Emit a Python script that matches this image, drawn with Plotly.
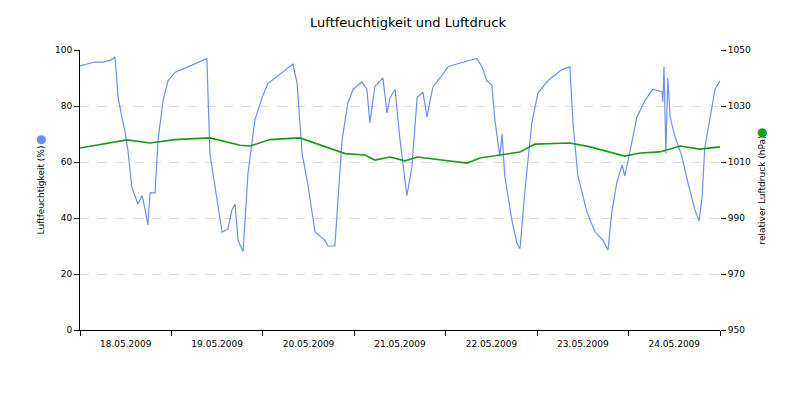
import pandas as pd
import plotly.graph_objects as go

start = pd.Timestamp("2009-05-18 00:00")

# Luftfeuchtigkeit: Stunden ab 18.05.2009 00:00 und Werte (%)
hum_hours = [0, 2.1, 3.9, 6.0, 8.1, 9.2, 10.0, 11.0, 11.8, 12.6, 13.6, 15.2, 16.3, 17.1, 17.8, 18.4, 19.7, 20.5,
             21.8, 23.1, 24.9, 29.4, 33.3, 34.1, 35.4, 37.3, 38.8, 39.9, 40.7, 41.5, 42.8, 44.1, 45.9, 47.8, 49.3,
             53.0, 55.9, 57.0, 58.3, 59.8, 61.7, 64.3, 65.1, 66.9, 68.8, 70.3, 71.7, 74.0, 75.3, 76.1, 77.4, 79.5,
             80.6, 81.4, 82.7, 84.0, 84.5, 85.8, 87.1, 88.5, 90.0, 91.1, 91.9, 92.7, 94.5, 96.6, 98.9, 101.6, 104.2,
             105.5, 106.8, 108.1, 108.9, 110.2, 110.8, 111.5, 113.4, 114.7, 115.5, 116.8, 118.6, 120.2, 122.8, 126.5,
             128.6, 129.4, 130.7, 133.1, 135.2, 137.3, 138.6, 139.6, 140.9, 142.3, 143.0, 144.4, 146.2, 148.3, 150.4,
             152.8, 153.0, 153.3, 153.8, 154.3, 154.9, 156.2, 158.0, 159.6, 161.4, 162.5, 163.3, 164.0, 165.4, 166.7,
             168.0]
hum_vals = [94.3, 95.0, 95.7, 95.7, 96.4, 97.5, 83, 76, 71, 64, 51, 45, 48, 43, 37.5, 49, 49, 68,
            82, 89, 92, 94.6, 97, 63, 51, 35, 36, 43, 45, 32, 28, 56, 75, 83, 88,
            92, 95, 88, 63, 52, 35, 32, 30, 30, 68, 81, 86, 88.6, 86, 74, 87, 90,
            77.5, 83, 86, 68, 62, 48, 58, 83, 85, 76, 82, 87, 90, 94, 95, 96, 97,
            94, 89, 87.5, 75, 62, 70, 55, 39, 31, 29, 50, 74, 84.6, 89, 93,
            94, 74, 55, 42, 35, 32, 28.6, 42, 52.5, 59, 55, 64, 76, 82, 86,
            85, 81.5, 94, 63, 90, 76, 69, 62, 52.5, 43, 39, 47.5, 65, 76, 86,
            89]

# Luftdruck: Stunden und Werte (hPa)
pres_hours = [0, 12.3, 18.4, 24.9, 34.1, 42.0, 44.6, 49.9, 57.7, 63.0, 69.6, 74.8, 77.4, 81.4, 85.3, 88.5, 94.5,
              101.6, 105.0, 110.2, 115.5, 119.4, 128.6, 133.9, 140.4, 143.0, 147.0, 152.2, 157.5, 162.7, 168.0]
pres_vals = [1015.0, 1017.9, 1016.8, 1018.0, 1018.6, 1016.0, 1015.7, 1018.0, 1018.6, 1016.0, 1013.0, 1012.5,
             1010.7, 1011.8, 1010.4, 1011.8, 1010.7, 1009.6, 1011.4, 1012.5, 1013.6, 1016.4, 1016.8, 1015.4,
             1013.2, 1012.1, 1013.2, 1013.6, 1015.7, 1014.6, 1015.4]

hx = [start + pd.Timedelta(hours=h) for h in hum_hours]
px = [start + pd.Timedelta(hours=h) for h in pres_hours]

fig = go.Figure()
fig.add_trace(go.Scatter(x=hx, y=hum_vals, mode="lines", line=dict(color="#6f8ff0", width=1.2),
                         name="Luftfeuchtigkeit"))
fig.add_trace(go.Scatter(x=px, y=pres_vals, mode="lines", line=dict(color="#1a9a1a", width=1.6),
                         name="Luftdruck", yaxis="y2"))

font = dict(family="DejaVu Sans", size=9, color="#000")
fig.update_layout(
    width=800, height=400, plot_bgcolor="white", paper_bgcolor="white",
    margin=dict(l=72, r=88, t=42, b=78), showlegend=False,
    title=dict(text="Luftfeuchtigkeit und Luftdruck", x=0.5, y=0.975, xanchor="center",
               font=dict(family="DejaVu Sans", size=13, color="#000")),
    font=font,
    xaxis=dict(type="date", range=[start, start + pd.Timedelta(days=7)],
               tickformat="%d.%m.%Y", dtick=86400000, tick0=start, ticklabelmode="period",
               ticks="outside", ticklen=5, tickcolor="#000", showline=True, linecolor="#000",
               showgrid=False, zeroline=False),
    yaxis=dict(range=[0, 100], dtick=20, ticks="outside", ticklen=5, tickcolor="#000",
               showline=True, linecolor="#000", gridcolor="#dddddd", griddash="dash",
               zeroline=False, title=dict(text="Luftfeuchtigkeit (%)", font=font, standoff=8)),
    yaxis2=dict(range=[950, 1050], dtick=20, tick0=950, overlaying="y", side="right", ticks="outside",
                ticklen=5, tickcolor="#000", showline=False, showgrid=False, zeroline=False,
                title=dict(text="relativer Luftdruck (hPa)", font=font, standoff=8)),
)
fig.add_annotation(text="●", xref="x domain", yref="y domain", x=-0.072, y=(340 - 140) / 280,
                   showarrow=False, font=dict(size=12, color="#6f8ff0"))
fig.add_annotation(text="●", xref="x domain", yref="y domain", x=1.077, y=(339 - 132) / 280,
                   showarrow=False, font=dict(size=12, color="#1a9a1a"))
fig.write_html("out.html")
